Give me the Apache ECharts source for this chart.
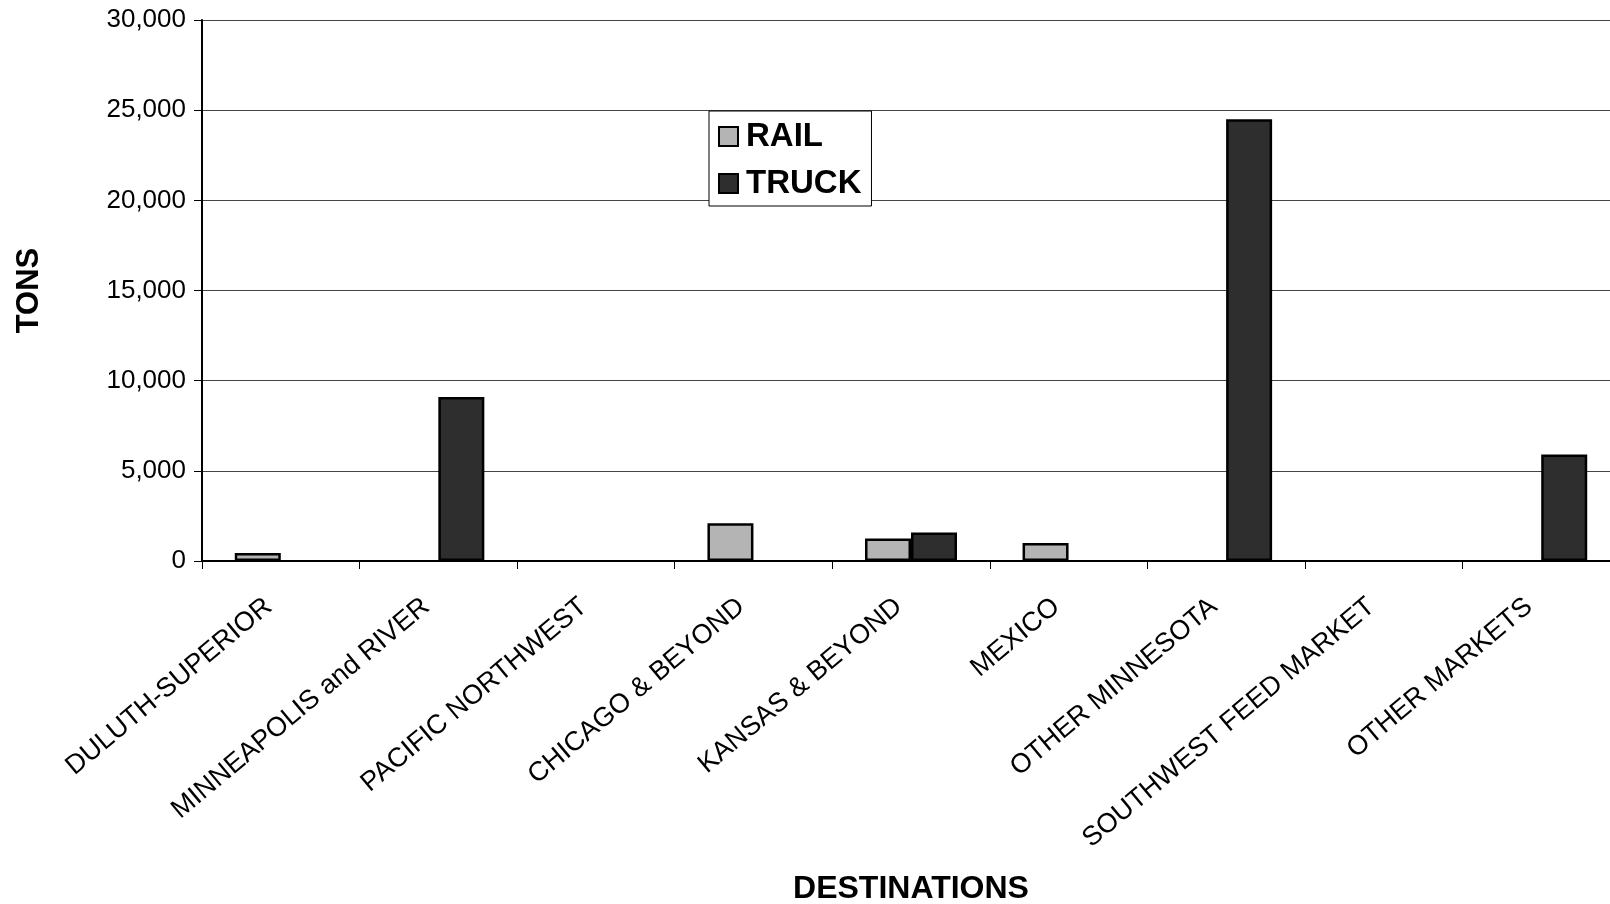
<!DOCTYPE html>
<html>
<head>
<meta charset="utf-8">
<script src="https://cdn.jsdelivr.net/npm/echarts@6/dist/echarts.min.js"></script>
<style>
html,body{margin:0;padding:0;background:#fff;}
#chart{width:1610px;height:904px;}
</style>
</head>
<body>
<div id="chart"></div>
<script>
const categories = ['DULUTH-SUPERIOR','MINNEAPOLIS and RIVER','PACIFIC NORTHWEST','CHICAGO & BEYOND','KANSAS & BEYOND','MEXICO','OTHER MINNESOTA','SOUTHWEST FEED MARKET','OTHER MARKETS'];
const railTons = [450, null, null, 2100, 1250, 1000, null, null, null];
const truckTons = [null, 9100, null, null, 1580, null, 24500, null, 5900];
const yTicks = [0, 5000, 10000, 15000, 20000, 25000, 30000];

const chart = echarts.init(document.getElementById('chart'), null, {renderer: 'canvas'});
chart.setOption({
  animation: false,
  backgroundColor: '#ffffff',
  grid: {left: 202, top: 20, bottom: 343, width: 1418, containLabel: false, outerBoundsMode: 'none'},
  legend: {
    orient: 'vertical',
    left: 709, top: 111,
    padding: [9, 10, 6, 9],
    itemGap: 14,
    itemWidth: 19, itemHeight: 19,
    backgroundColor: '#fff',
    borderColor: '#000', borderWidth: 1,
    icon: 'rect',
    textStyle: {fontFamily: 'Liberation Sans', fontWeight: 'bold', fontSize: 33, color: '#000', padding: [0, 0, 0, 3]},
    data: ['RAIL', 'TRUCK']
  },
  xAxis: {
    type: 'category',
    data: categories,
    name: 'DESTINATIONS',
    nameLocation: 'middle',
    nameGap: 312,
    nameTextStyle: {fontFamily: 'Liberation Sans', fontWeight: 'bold', fontSize: 32, color: '#000'},
    axisLine: {lineStyle: {color: '#000', width: 2}},
    axisTick: {show: true, length: 8, lineStyle: {color: '#000', width: 1}},
    axisLabel: {rotate: 40, margin: 32, interval: 0, padding: [0, 16, 0, 0], fontFamily: 'Liberation Sans', fontSize: 27, color: '#000'},
    splitLine: {show: false}
  },
  yAxis: {
    type: 'value',
    min: 0, max: 30000, interval: 5000,
    name: 'TONS',
    nameLocation: 'middle',
    nameGap: 157,
    nameRotate: 90,
    nameTextStyle: {fontFamily: 'Liberation Sans', fontWeight: 'bold', fontSize: 31, color: '#000'},
    axisLine: {show: true, lineStyle: {color: '#000', width: 2}},
    axisTick: {show: true, length: 8, lineStyle: {color: '#000', width: 1}},
    axisLabel: {
      margin: 16,
      fontFamily: 'Liberation Sans', fontSize: 26, color: '#000',
      formatter: v => yTicks.includes(v) ? v.toLocaleString('en-US') : ''
    },
    splitLine: {show: true, lineStyle: {color: '#444', width: 1.2}}
  },
  series: [
    {name: 'RAIL', type: 'bar', data: railTons, barWidth: 46, barGap: '0%',
     itemStyle: {color: '#b4b4b4', borderColor: '#000', borderWidth: 2.5}},
    {name: 'TRUCK', type: 'bar', data: truckTons, barWidth: 46, barGap: '0%',
     itemStyle: {color: '#2e2e2e', borderColor: '#000', borderWidth: 2.5}}
  ]
});
</script>
</body>
</html>
